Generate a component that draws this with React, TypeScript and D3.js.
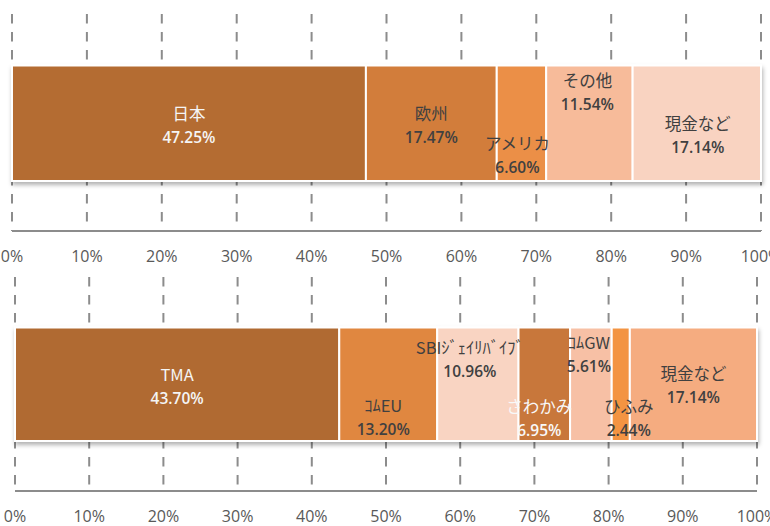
import * as d3 from "d3";

// tick values for both axes
const TICKS = [0, 10, 20, 30, 40, 50, 60, 70, 80, 90, 100];

// upper chart: allocation by region
const TOP_NAMES = ["日本", "欧州", "アメリカ", "その他", "現金など"];
const TOP_VALUES = [47.25, 17.47, 6.6, 11.54, 17.14];
const TOP_COLORS = ["#B46C32", "#D27D3A", "#EB8F46", "#F7BB9A", "#F9D3C1"];
const TOP_TEXT = ["#F5F5F5", "#404040", "#404040", "#404040", "#404040"];

// lower chart: allocation by fund
const BOTTOM_NAMES = ["TMA", "ｺﾑEU", "SBIｼﾞｪｲﾘﾊﾞｲﾌﾞ", "さわかみ", "ｺﾑGW", "ひふみ", "現金など"];
const BOTTOM_VALUES = [43.7, 13.2, 10.96, 6.95, 5.61, 2.44, 17.14];
const BOTTOM_COLORS = ["#B06A33", "#E08741", "#F9D4C2", "#C8773A", "#F7C0A5", "#F39443", "#F5AC80"];
const BOTTOM_TEXT = ["#F5F5F5", "#404040", "#404040", "#F8F8F8", "#404040", "#404040", "#404040"];

// hand-placed data label nudges (dx, dy), like the Excel original
const TOP_NUDGE = [[0, 0], [0, 0], [-4, 30], [-2, -33], [1, 10]];
const BOTTOM_NUDGE = [[0, 0], [-5, 31], [-8, -27], [-5, 32], [-2, -32], [8, 32], [0, -1]];

const W = 770;
const H = 526;

type BarProps = {
  names: string[];
  values: number[];
  colors: string[];
  textColors: string[];
  nudge: number[][];
  x0: number;
  x1: number;
  gridTop: number;
  barTop: number;
  barBottom: number;
  axisY: number;
  tickY: number;
};

const StackBar = ({
  names,
  values,
  colors,
  textColors,
  nudge,
  x0,
  x1,
  gridTop,
  barTop,
  barBottom,
  axisY,
  tickY,
}: BarProps) => {
  const xScale = d3.scaleLinear().domain([0, 100]).range([x0, x1]);
  const cum = d3.cumsum(values);
  const segs = values.map((v, i) => ({
    name: names[i],
    value: v,
    start: i === 0 ? 0 : cum[i - 1],
    end: cum[i],
  }));
  const mid = (barTop + barBottom) / 2;

  const grid = TICKS.map((t) => (
    <line
      key={t}
      x1={xScale(t)}
      x2={xScale(t)}
      y1={gridTop}
      y2={axisY}
      stroke="#8C8C8C"
      strokeWidth={2}
      strokeDasharray="9.5,8.5"
    />
  ));

  const bars = segs.map((s, i) => (
    <rect
      key={i}
      x={xScale(s.start)}
      y={barTop}
      width={xScale(s.end) - xScale(s.start)}
      height={barBottom - barTop}
      fill={colors[i]}
      stroke="#fff"
      strokeWidth={2}
    />
  ));

  const labels = segs.map((s, i) => {
    const cx = (xScale(s.start) + xScale(s.end)) / 2 + nudge[i][0];
    const ny = mid - 10 + nudge[i][1];
    return (
      <g key={i} fill={textColors[i]} textAnchor="middle" dominantBaseline="central">
        <text x={cx} y={ny} fontSize={16.5} fontFamily="'Noto Sans CJK JP', sans-serif">
          {s.name}
        </text>
        <text
          x={cx}
          y={ny + 23.5}
          fontSize={15.5}
          fontWeight={600}
          fontFamily="'Open Sans', sans-serif"
        >
          {s.value.toFixed(2)}%
        </text>
      </g>
    );
  });

  const tickLabels = TICKS.map((t) => (
    <text
      key={t}
      x={xScale(t)}
      y={tickY}
      textAnchor="middle"
      dominantBaseline="central"
      fontSize={16}
      fill="#595959"
      fontFamily="'Open Sans', sans-serif"
    >
      {t}%
    </text>
  ));

  return (
    <g>
      {grid}
      <line x1={x0} x2={x1} y1={axisY} y2={axisY} stroke="#8C8C8C" strokeWidth={2} />
      <g filter="url(#barShadow)">{bars}</g>
      {labels}
      {tickLabels}
    </g>
  );
};

export default function App() {
  return (
    <svg
      width={W}
      height={H}
      style={{ position: "absolute", left: 0, top: 0, background: "#fff" }}
    >
      <defs>
        <filter id="barShadow" x="-5%" y="-20%" width="110%" height="150%">
          <feDropShadow dx={1} dy={3} stdDeviation={2} floodColor="#000" floodOpacity={0.3} />
        </filter>
      </defs>
      <StackBar
        names={TOP_NAMES}
        values={TOP_VALUES}
        colors={TOP_COLORS}
        textColors={TOP_TEXT}
        nudge={TOP_NUDGE}
        x0={12}
        x1={761}
        gridTop={14}
        barTop={65.5}
        barBottom={181}
        axisY={231}
        tickY={256}
      />
      <StackBar
        names={BOTTOM_NAMES}
        values={BOTTOM_VALUES}
        colors={BOTTOM_COLORS}
        textColors={BOTTOM_TEXT}
        nudge={BOTTOM_NUDGE}
        x0={15}
        x1={757}
        gridTop={277}
        barTop={327.5}
        barBottom={441}
        axisY={491}
        tickY={516}
      />
    </svg>
  );
}
